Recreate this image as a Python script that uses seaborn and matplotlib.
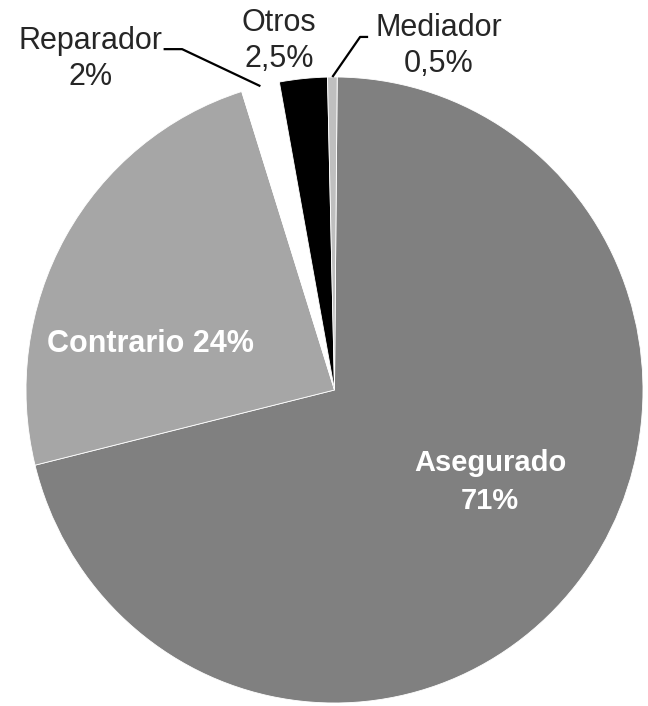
# Pie chart of who reports the claim (Asegurado, Contrario, ...), greyscale.

import seaborn as sns
import matplotlib.pyplot as plt
import numpy as np

sns.set_theme(style="white")
plt.rcParams['font.family'] = ['Liberation Sans', 'DejaVu Sans']

# Data, in drawing order (clockwise from the top).
labels = ["Asegurado", "Contrario", "Reparador", "Otros", "Mediador"]
values = [71, 24, 2, 2.5, 0.5]
value_text = ["71%", "24%", "2%", "2,5%", "0,5%"]
colors = ["#808080", "#a6a6a6", "#ffffff", "#000000", "#bfbfbf"]

fig = plt.figure(figsize=(6.48, 7.06), dpi=100)
# the pie in the reference is a bit taller than wide, so no equal aspect
ax = fig.add_axes([26 / 648, 3 / 706, 617 / 648, 626 / 706])

wedges, _ = ax.pie(values, colors=colors, startangle=89.5, counterclock=False,
                   radius=1, wedgeprops=dict(edgecolor="white", linewidth=0.6))
ax.set_aspect("auto")
ax.set_xlim(-1, 1)
ax.set_ylim(-1, 1)
ax.axis("off")

# Labels inside the big slices (white bold).
# (va="baseline" on two-line text sits on the last line's baseline)
ax.text(-0.598, 0.121, labels[1] + " " + value_text[1], color="white",
        fontsize=22, fontweight="bold", ha="center", va="baseline")
ax.text(0.505, -0.380, labels[0] + "\n" + value_text[0], color="white",
        fontsize=21, fontweight="bold", ha="center", va="baseline", linespacing=1.45)

# Labels outside for the small slices.
ax.text(-0.79, 0.974, labels[2] + "\n" + value_text[2], fontsize=22,
        ha="center", va="baseline", linespacing=1.25, clip_on=False)
ax.text(-0.18, 1.032, labels[3] + "\n" + value_text[3], fontsize=22,
        ha="center", va="baseline", linespacing=1.25, clip_on=False)
ax.text(0.339, 1.016, labels[4] + "\n" + value_text[4], fontsize=22,
        ha="center", va="baseline", linespacing=1.25, clip_on=False)


# Leader lines: from the text to the middle of the wedge's outer edge.
def leader(w, x0, x1, y):
    a = np.deg2rad((w.theta1 + w.theta2) / 2)
    ax.plot([x0, x1, np.cos(a)], [y, y, np.sin(a)], color="black", lw=1.6,
            clip_on=False, solid_capstyle="butt")


leader(wedges[2], -0.554, -0.494, 1.089)
leader(wedges[4], 0.109, 0.083, 1.128)

plt.savefig("out.png", dpi=100)
